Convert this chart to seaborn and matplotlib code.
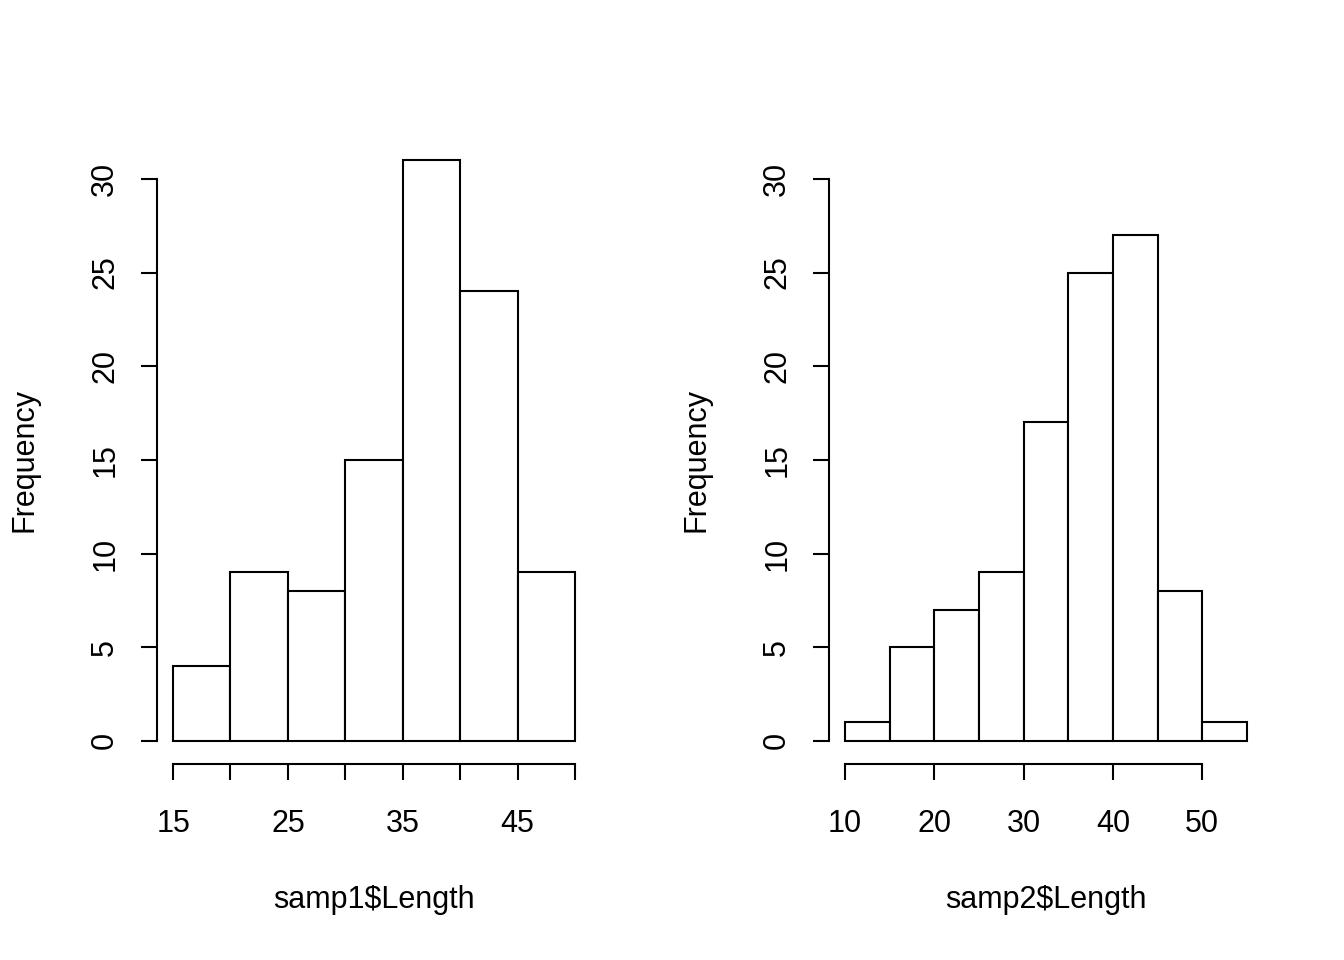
import numpy as np
import matplotlib
matplotlib.use("Agg")
import matplotlib.pyplot as plt
import seaborn as sns

# samp1 histogram (bin edges and counts)
samp1_edges = [15, 20, 25, 30, 35, 40, 45, 50]
samp1_counts = [4, 9, 8, 15, 31, 24, 9]
samp1_ticks = [15, 20, 25, 30, 35, 40, 45, 50]
samp1_labels = ["15", "", "25", "", "35", "", "45", ""]

# samp2 histogram
samp2_edges = [10, 15, 20, 25, 30, 35, 40, 45, 50, 55]
samp2_counts = [1, 5, 7, 9, 17, 25, 27, 8, 1]
samp2_ticks = [10, 20, 30, 40, 50]
samp2_labels = ["10", "20", "30", "40", "50"]

y_ticks = [0, 5, 10, 15, 20, 25, 30]

sns.set_style("white")
plt.rcParams['font.family'] = ['Liberation Sans', 'DejaVu Sans']
plt.rcParams['text.color'] = 'black'
plt.rcParams['xtick.labelcolor'] = 'black'
plt.rcParams['ytick.labelcolor'] = 'black'

fig = plt.figure(figsize=(13.44, 9.6), dpi=100)

panels = [
    (157, 591, samp1_edges, samp1_counts, samp1_ticks, samp1_labels, "samp1\\$Length"),
    (829, 1263, samp2_edges, samp2_counts, samp2_ticks, samp2_labels, "samp2\\$Length"),
]

for x0, x1, edges, counts, ticks, labels, xlabel in panels:
    ax = fig.add_axes([x0 / 1344, 1 - 764 / 960, (x1 - x0) / 1344, (764 - 137) / 960])
    centers = [(a + b) / 2 for a, b in zip(edges[:-1], edges[1:])]
    sns.histplot(x=centers, weights=counts, bins=edges, ax=ax,
                 color="white", edgecolor="black", linewidth=1.5, alpha=1)
    pad = 0.04 * (edges[-1] - edges[0])
    ax.set_xlim(edges[0] - pad, edges[-1] + pad)
    ax.set_ylim(-1.24, 32.24)
    for s in ["top", "right"]:
        ax.spines[s].set_visible(False)
    ax.spines["left"].set_bounds(0, 30)
    ax.spines["bottom"].set_bounds(ticks[0], ticks[-1])
    for s in ["left", "bottom"]:
        ax.spines[s].set_linewidth(1.5)
        ax.spines[s].set_color("black")
    ax.set_yticks(y_ticks)
    ax.set_yticklabels([str(v) for v in y_ticks], rotation=90, va="center")
    ax.set_xticks(ticks)
    ax.set_xticklabels(labels)
    ax.tick_params(direction="out", length=11.5, width=1.5, color="black",
                   labelsize=22, labelcolor="black", left=True, bottom=True)
    ax.tick_params(axis="y", pad=15)
    ax.tick_params(axis="x", pad=21)
    ax.set_xlabel("")
    ax.set_ylabel("")
    fig.text((x0 + x1) / 2 / 1344, 1 - 900 / 960, xlabel, ha="center", va="center",
             fontsize=22, color="black")
    fig.text((x0 - 132) / 1344, 1 - 460 / 960, "Frequency", ha="center", va="center",
             rotation=90, fontsize=22, color="black")

fig.savefig("out.png", dpi=100, facecolor="white")
